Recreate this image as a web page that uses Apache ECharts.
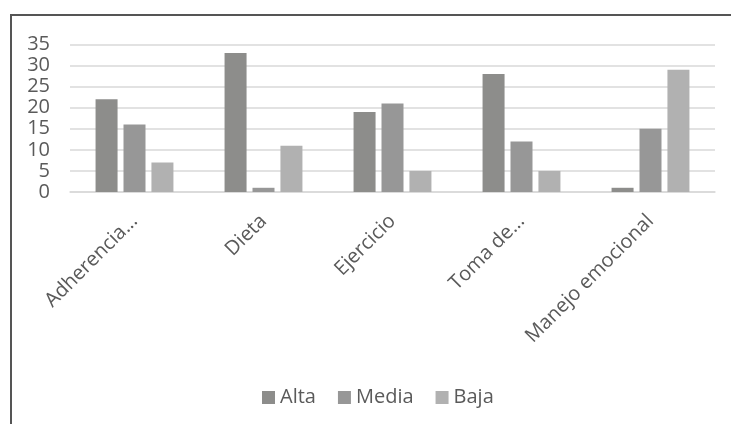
<!DOCTYPE html>
<html>
<head>
<meta charset="utf-8">
<script src="https://cdn.jsdelivr.net/npm/echarts@6/dist/echarts.min.js"></script>
<style>
html,body{margin:0;padding:0;background:#fff;}
#chart{width:731px;height:424px;}
</style>
</head>
<body>
<div id="chart"></div>
<script>
const categories = ['Adherencia...', 'Dieta', 'Ejercicio', 'Toma de...', 'Manejo emocional'];
const alta = [22, 33, 19, 28, 1];
const media = [16, 1, 21, 12, 15];
const baja = [7, 11, 5, 5, 29];
const seriesNames = ['Alta', 'Media', 'Baja'];
const yMin = 0, yMax = 35, yStep = 5;

const textColor = '#5a5a5a';
const font = 'Open Sans';
const chart = echarts.init(document.getElementById('chart'), null, {renderer: 'canvas'});
chart.setOption({
  animation: false,
  backgroundColor: '#fff',
  color: ['#8d8d8b', '#979797', '#b1b1b1'],
  graphic: [{
    type: 'rect', z: -1, silent: true,
    shape: {x: 11, y: 15, width: 800, height: 500},
    style: {fill: 'none', stroke: '#555', lineWidth: 2}
  }],
  grid: {left: 70, right: 16, top: 44.5, bottom: 232, containLabel: false},
  legend: {
    data: seriesNames,
    left: 262, top: 386.5, padding: 0,
    icon: 'rect', itemWidth: 13, itemHeight: 13, itemGap: 22,
    textStyle: {color: textColor, fontFamily: font, fontSize: 20, lineHeight: 22}
  },
  xAxis: {
    type: 'category', data: categories,
    axisLine: {show: true, lineStyle: {color: '#d9d9d9', width: 1.5}},
    axisTick: {show: false},
    axisLabel: {
      rotate: 45, margin: 26, interval: 0,
      verticalAlign: 'middle', padding: [6, 0, 0, 0],
      color: textColor, fontFamily: font, fontSize: 20, lineHeight: 20
    }
  },
  yAxis: {
    type: 'value', min: yMin, max: yMax, interval: yStep,
    axisLine: {show: false}, axisTick: {show: false},
    splitLine: {lineStyle: {color: '#d9d9d9', width: 1.5}},
    axisLabel: {margin: 20, color: textColor, fontFamily: font, fontSize: 20}
  },
  series: [
    {name: seriesNames[0], type: 'bar', data: alta, barWidth: 22, barGap: '27%'},
    {name: seriesNames[1], type: 'bar', data: media, barWidth: 22, barGap: '27%'},
    {name: seriesNames[2], type: 'bar', data: baja, barWidth: 22, barGap: '27%'}
  ]
});
</script>
</body>
</html>
